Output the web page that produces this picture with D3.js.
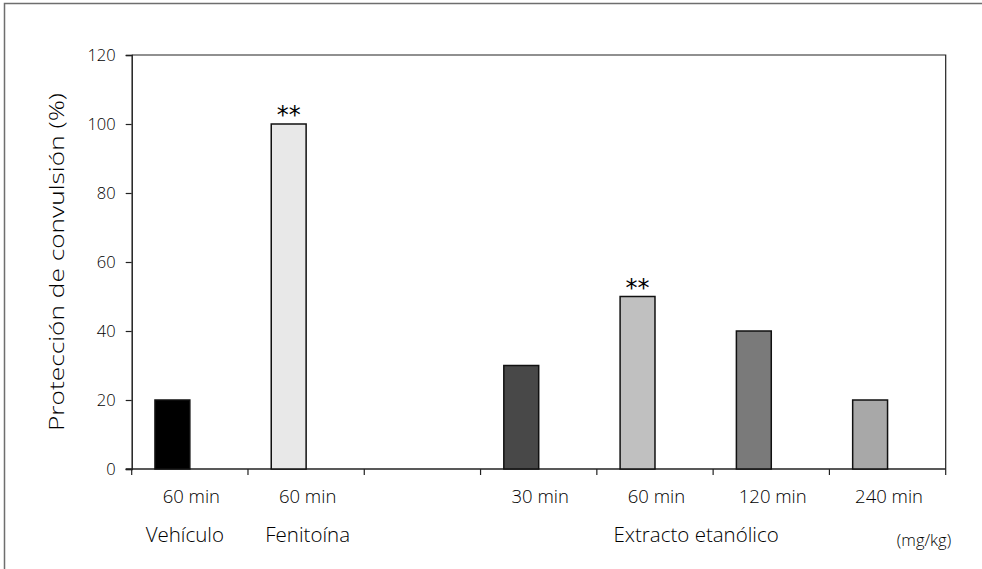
<!DOCTYPE html>
<html>
<head>
<meta charset="utf-8">
<script src="https://cdn.jsdelivr.net/npm/d3@7"></script>
<style>
  html, body { margin: 0; padding: 0; background: #fff; }
  svg { display: block; }
  text { font-family: "Open Sans", "Noto Sans", sans-serif; font-weight: 300; fill: #000; }
</style>
</head>
<body>
<svg id="chart" width="982" height="569"></svg>
<script>
// ---- data ----
const categories = ["veh60", "fen60", "gap", "ext30", "ext60", "ext120", "ext240"];
const timeLabels = ["60 min", "60 min", "", "30 min", "60 min", "120 min", "240 min"];
const values = [20, 100, null, 30, 50, 40, 20];
const barColors = ["#000000", "#e8e8e8", null, "#484848", "#c0c0c0", "#7a7a7a", "#a8a8a8"];
const significance = ["", "**", "", "", "**", "", ""];
const groupLabels = [
  { text: "Vehículo", from: "veh60", to: "veh60", dx: -5 },
  { text: "Fenitoína", from: "fen60", to: "fen60", dx: 1.5 },
  { text: "Extracto etanólico", from: "ext30", to: "ext240", dx: -17 }
];
const yTicks = [0, 20, 40, 60, 80, 100, 120];
const yTitle = "Protección de convulsión (%)";
const unitLabel = "(mg/kg)";

// ---- layout ----
const svg = d3.select("#chart");
const W = 982, H = 569;
const plot = { left: 131.7, right: 945.7, top: 55, bottom: 469 };

// outer frame (cut off at right/bottom)
svg.append("rect")
  .attr("x", 4.5).attr("y", 3.5)
  .attr("width", W + 10).attr("height", H + 10)
  .attr("fill", "none").attr("stroke", "#6e6e6e").attr("stroke-width", 1.5);

const x = d3.scaleBand().domain(categories).range([plot.left, plot.right]).padding(0);
const y = d3.scaleLinear().domain([0, 120]).range([plot.bottom, plot.top]);

// plot border (top & right)
svg.append("path")
  .attr("d", `M${plot.left},${plot.top}H${plot.right}V${plot.bottom}`)
  .attr("fill", "none").attr("stroke", "#222").attr("stroke-width", 1.2);

// y axis
const yAxis = d3.axisLeft(y).tickValues(yTicks).tickSize(6).tickPadding(10);
const gy = svg.append("g").attr("transform", `translate(${plot.left},0)`).call(yAxis);
gy.select(".domain").attr("stroke", "#222").attr("stroke-width", 1.5);
gy.selectAll(".tick line").attr("stroke", "#222").attr("stroke-width", 1.2);
gy.selectAll(".tick text").style("font-size", "16.5px")
  .style("font-family", "'Open Sans', sans-serif").style("font-weight", "300").attr("fill", "#000");

// x axis (ticks at category boundaries)
const boundaries = categories.map(c => x(c)).concat([plot.right]);
svg.append("line")
  .attr("x1", plot.left - 6).attr("x2", plot.right)
  .attr("y1", plot.bottom).attr("y2", plot.bottom)
  .attr("stroke", "#222").attr("stroke-width", 1.5);
svg.selectAll(".xtick").data(boundaries).enter().append("line")
  .attr("x1", d => d).attr("x2", d => d)
  .attr("y1", plot.bottom).attr("y2", plot.bottom + 6)
  .attr("stroke", "#222").attr("stroke-width", 1.2);

// bars
const bw = x.bandwidth();
const data = categories.map((c, i) => ({ c, v: values[i], color: barColors[i], sig: significance[i], t: timeLabels[i] }));
svg.selectAll(".bar").data(data.filter(d => d.v !== null)).enter().append("rect")
  .attr("x", d => x(d.c) + bw * 0.2)
  .attr("width", bw * 0.3)
  .attr("y", d => y(d.v))
  .attr("height", d => y(0) - y(d.v))
  .attr("fill", d => d.color)
  .attr("stroke", "#111").attr("stroke-width", 1.5);

// significance
svg.selectAll(".sig").data(data.filter(d => d.sig)).enter().append("text")
  .attr("x", d => x(d.c) + bw * 0.35)
  .attr("y", d => y(d.v) - 14)
  .attr("dy", "0.55em")
  .attr("text-anchor", "middle")
  .style("font-size", "24px")
  .style("font-family", "'DejaVu Sans', sans-serif")
  .style("font-weight", "normal")
  .text(d => d.sig);

// time labels
svg.selectAll(".tl").data(data.filter(d => d.t)).enter().append("text")
  .attr("x", d => x(d.c) + bw / 2 + 1.5)
  .attr("y", 497)
  .attr("dy", "0.35em")
  .attr("text-anchor", "middle")
  .style("font-size", "18.5px")
  .text(d => d.t);

// group labels
svg.selectAll(".gl").data(groupLabels).enter().append("text")
  .attr("x", d => (x(d.from) + x(d.to) + bw) / 2 + d.dx)
  .attr("y", 535)
  .attr("dy", "0.35em")
  .attr("text-anchor", "middle")
  .style("font-size", "20.5px")
  .text(d => d.text);

svg.append("text")
  .attr("x", 924).attr("y", 540).attr("dy", "0.35em")
  .attr("text-anchor", "middle")
  .style("font-size", "16.5px")
  .text(unitLabel);

// y title
svg.append("text")
  .attr("transform", `translate(57,${262}) rotate(-90)`)
  .attr("text-anchor", "middle")
  .attr("dy", "0.35em")
  .style("font-size", "20.5px")
  .attr("textLength", 338)
  .attr("lengthAdjust", "spacingAndGlyphs")
  .text(yTitle);
</script>
</body>
</html>
